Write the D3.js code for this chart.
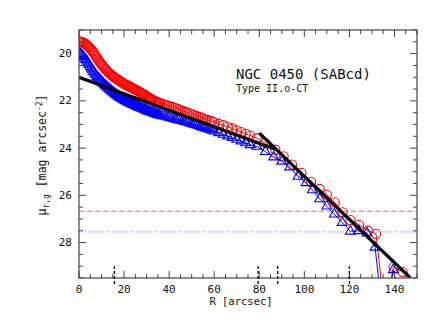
<!DOCTYPE html>
<html>
<head>
<meta charset="utf-8">
<script src="https://cdn.jsdelivr.net/npm/d3@7"></script>
<style>
  body { margin: 0; background: #fff; }
  svg { display: block; }
  text { font-family: "DejaVu Sans Mono", monospace; fill: #111; }
</style>
</head>
<body>
<div id="chart"></div>
<script>
// ---- data ----
const radiusR = [0,0.5,1,1.5,2,2.5,3,3.5,4,4.5,5,5.5,6,6.5,7,7.5,8,8.5,9,9.5,10,10.5,11,11.5,12,12.5,13,13.5,14,14.5,15,15.5,16,16.5,17,17.5,18,18.5,19,19.5,20,20.5,21,21.5,22,22.5,23,23.5,24,24.5,25,25.5,26,26.5,27,27.5,28,28.5,29,29.5,30,30.5,31,31.5,32,32.5,33,33.5,34,34.5,35,35.5,36,
  37,38,39,40,41,42,43,44,45,46,47,48,49,50,51,52,53,54,55,56,57,58,59,60,
  62,64,66,68,70,72,74,76,78.9,82.7,87.1,90.8,94.5,98.7,103,106.8,110,113.5,117,120.5,124.3,128.2,131.8,135.6,139.6,143.6]
const muR = [19.48,19.49,19.5,19.52,19.54,19.57,19.6,19.64,19.68,19.73,19.78,19.84,19.9,19.97,20.04,20.11,20.18,20.25,20.32,20.39,20.45,20.51,20.57,20.63,20.68,20.73,20.78,20.83,20.87,20.91,20.95,20.99,21.02,21.06,21.09,21.12,21.15,21.18,21.21,21.24,21.27,21.3,21.32,21.35,21.37,21.4,21.42,21.45,21.47,21.5,21.52,21.55,21.57,21.6,21.63,21.66,21.68,21.71,21.74,21.77,21.8,21.83,21.86,21.89,21.92,21.95,21.97,22.0,22.02,22.04,22.06,22.08,22.1,
  22.13,22.16,22.19,22.22,22.25,22.28,22.31,22.35,22.38,22.42,22.46,22.5,22.53,22.57,22.6,22.64,22.67,22.7,22.74,22.78,22.81,22.84,22.87,22.9,
  22.97,23.03,23.1,23.17,23.25,23.32,23.4,23.47,23.58,23.79,24.07,24.35,24.7,25.05,25.43,25.73,25.97,26.3,26.72,27.05,27.25,27.5,27.63,30.9,29.03,29.24]

const radiusG = [0,0.5,1,1.5,2,2.5,3,3.5,4,4.5,5,5.5,6,6.5,7,7.5,8,8.5,9,9.5,10,10.5,11,11.5,12,12.5,13,13.5,14,14.5,15,15.5,16,16.5,17,17.5,18,18.5,19,19.5,20,20.5,21,21.5,22,22.5,23,23.5,24,24.5,25,25.5,26,26.5,27,27.5,28,28.5,29,29.5,30,30.5,31,31.5,32,32.5,33,33.5,34,34.5,35,35.5,36,
  37,38,39,40,41,42,43,44,45,46,47,48,49,50,51,52,53,54,55,56,57,58,59,60,
  62,64,66,68,70,72,74,76,78.9,82.7,86.4,90,93.5,97.2,100.8,103.6,106.8,110,113.3,116.8,120.4,124.1,127.8,131.4,135.2,139.5,143.3]
const muG = [19.98,20.0,20.04,20.08,20.13,20.19,20.25,20.32,20.4,20.47,20.55,20.62,20.7,20.77,20.84,20.91,20.97,21.03,21.08,21.13,21.18,21.23,21.28,21.33,21.37,21.42,21.46,21.5,21.54,21.58,21.62,21.66,21.7,21.74,21.77,21.81,21.84,21.87,21.9,21.93,21.96,21.99,22.01,22.04,22.06,22.08,22.11,22.13,22.15,22.17,22.2,22.22,22.24,22.26,22.28,22.3,22.32,22.34,22.36,22.38,22.4,22.42,22.44,22.46,22.47,22.49,22.51,22.53,22.55,22.56,22.58,22.59,22.6,
  22.63,22.65,22.68,22.7,22.73,22.75,22.78,22.8,22.83,22.85,22.88,22.9,22.93,22.96,22.99,23.02,23.05,23.09,23.12,23.15,23.18,23.21,23.25,23.28,
  23.35,23.42,23.49,23.56,23.63,23.7,23.78,23.86,23.93,24.15,24.38,24.56,24.8,25.2,25.47,25.77,26.15,26.46,26.8,27.15,27.52,27.5,27.6,28.2,31.5,29.15,30.8]

// broken-exponential fits (inner and outer)
const innerFit = [[0, 21.0], [88, 24.08]]
const outerFit = [[80, 23.37], [147, 29.49]]

// sky limits
const limitR = 26.67
const limitG = 27.55

// break / region markers on the R axis
const markers = [15.7, 79.5, 88.2, 120]

const xTicks = [0, 20, 40, 60, 80, 100, 120, 140]
const yTicks = [20, 22, 24, 26, 28]

const galaxyName = "NGC 0450 (SABcd)"
const profileType = "Type II.o-CT"

// ---- layout ----
const W = 430, H = 333
const frame = { left: 79, top: 30, right: 417, bottom: 278 }

const x = d3.scaleLinear().domain([0, 150]).range([frame.left, frame.right])
const y = d3.scaleLinear().domain([19, 29.5]).range([frame.top, frame.bottom])

const svg = d3.select('#chart').append('svg')
    .attr('width', W)
    .attr('height', H)

svg.append('clipPath').attr('id', 'plotclip')
    .append('rect')
    .attr('x', frame.left).attr('y', frame.top)
    .attr('width', frame.right - frame.left)
    .attr('height', frame.bottom - frame.top)

const plot = svg.append('g').attr('clip-path', 'url(#plotclip)')

// sky limit lines
plot.append('line')
    .attr('x1', frame.left).attr('x2', frame.right)
    .attr('y1', y(limitR)).attr('y2', y(limitR))
    .style('stroke', '#f06060').style('stroke-width', 1)
    .style('stroke-dasharray', '5,3')

plot.append('line')
    .attr('x1', frame.left).attr('x2', frame.right)
    .attr('y1', y(limitG)).attr('y2', y(limitG))
    .style('stroke', '#6a6aff').style('stroke-width', 1)
    .style('stroke-dasharray', '1,2')

const line = d3.line().x(d => x(d[0])).y(d => y(d[1]))

const redPts = radiusR.map((r, i) => [r, muR[i]])
const bluePts = radiusG.map((r, i) => [r, muG[i]])

// r-band profile
plot.append('path')
    .datum(redPts)
    .attr('d', line)
    .style('fill', 'none').style('stroke', '#ff0000').style('stroke-width', 1)

plot.selectAll('.circR')
    .data(redPts)
    .enter()
    .append('circle')
    .attr('class', 'circR')
    .attr('cx', d => x(d[0]))
    .attr('cy', d => y(d[1]))
    .attr('r', 4.6)
    .style('fill', 'none').style('stroke', '#ff0000').style('stroke-width', 1.1)

// g-band profile
plot.append('path')
    .datum(bluePts)
    .attr('d', line)
    .style('fill', 'none').style('stroke', '#0000ff').style('stroke-width', 1)

const tri = d3.symbol().type(d3.symbolTriangle).size(42)
plot.selectAll('.triG')
    .data(bluePts)
    .enter()
    .append('path')
    .attr('class', 'triG')
    .attr('d', tri)
    .attr('transform', d => `translate(${x(d[0])},${y(d[1])})`)
    .style('fill', 'none').style('stroke', '#0000ff').style('stroke-width', 1.1)

// fits
;[innerFit, outerFit].forEach(f => {
    plot.append('path')
        .datum(f)
        .attr('d', line)
        .style('fill', 'none').style('stroke', '#000').style('stroke-width', 3.2)
})

// frame and ticks
const axisColor = '#444'
svg.append('rect')
    .attr('x', frame.left).attr('y', frame.top)
    .attr('width', frame.right - frame.left)
    .attr('height', frame.bottom - frame.top)
    .style('fill', 'none').style('stroke', axisColor).style('stroke-width', 1.2)

const xMinor = d3.range(0, 151, 5)
const yMinor = d3.range(19, 29.51, 0.5)
const tickG = svg.append('g').style('stroke', axisColor).style('stroke-width', 1)

xMinor.forEach(v => {
    const len = v % 20 === 0 ? 7 : 4
    tickG.append('line').attr('x1', x(v)).attr('x2', x(v))
        .attr('y1', frame.bottom).attr('y2', frame.bottom - len)
    tickG.append('line').attr('x1', x(v)).attr('x2', x(v))
        .attr('y1', frame.top).attr('y2', frame.top + len)
})
yMinor.forEach(v => {
    const len = v % 2 === 0 ? 7 : 4
    tickG.append('line').attr('y1', y(v)).attr('y2', y(v))
        .attr('x1', frame.left).attr('x2', frame.left + len)
    tickG.append('line').attr('y1', y(v)).attr('y2', y(v))
        .attr('x1', frame.right).attr('x2', frame.right - len)
})

// tick labels
svg.selectAll('.xlab')
    .data(xTicks)
    .enter()
    .append('text')
    .attr('class', 'xlab')
    .attr('x', d => x(d))
    .attr('y', 293)
    .attr('text-anchor', 'middle')
    .style('font-size', '11px')
    .text(d => d)

svg.selectAll('.ylab')
    .data(yTicks)
    .enter()
    .append('text')
    .attr('class', 'ylab')
    .attr('x', 72)
    .attr('y', d => y(d) + 3.5)
    .attr('text-anchor', 'end')
    .style('font-size', '11px')
    .text(d => d)

// break markers
svg.selectAll('.mark')
    .data(markers)
    .enter()
    .append('line')
    .attr('class', 'mark')
    .attr('x1', d => x(d)).attr('x2', d => x(d))
    .attr('y1', 266).attr('y2', 285)
    .style('stroke', '#000').style('stroke-width', 1.3)
    .style('stroke-dasharray', '3,2')

// axis titles
svg.append('text')
    .attr('x', 241).attr('y', 305)
    .attr('text-anchor', 'middle')
    .style('font-size', '10.5px')
    .text('R [arcsec]')

const yt = svg.append('text')
    .attr('transform', 'translate(46,155) rotate(-90)')
    .attr('text-anchor', 'middle')
    .style('font-size', '11.5px')
yt.append('tspan').text('μ')
yt.append('tspan').attr('dy', 3).style('font-size', '8px').text('r,g')
yt.append('tspan').attr('dy', -3).text(' [mag arcsec')
yt.append('tspan').attr('dy', -4).style('font-size', '8px').text('-2')
yt.append('tspan').attr('dy', 4).text(']')

// annotations
svg.append('text')
    .attr('x', 236).attr('y', 79)
    .style('font-size', '14px')
    .text(galaxyName)

svg.append('text')
    .attr('x', 236).attr('y', 92)
    .style('font-size', '10px')
    .text(profileType)
</script>
</body>
</html>
